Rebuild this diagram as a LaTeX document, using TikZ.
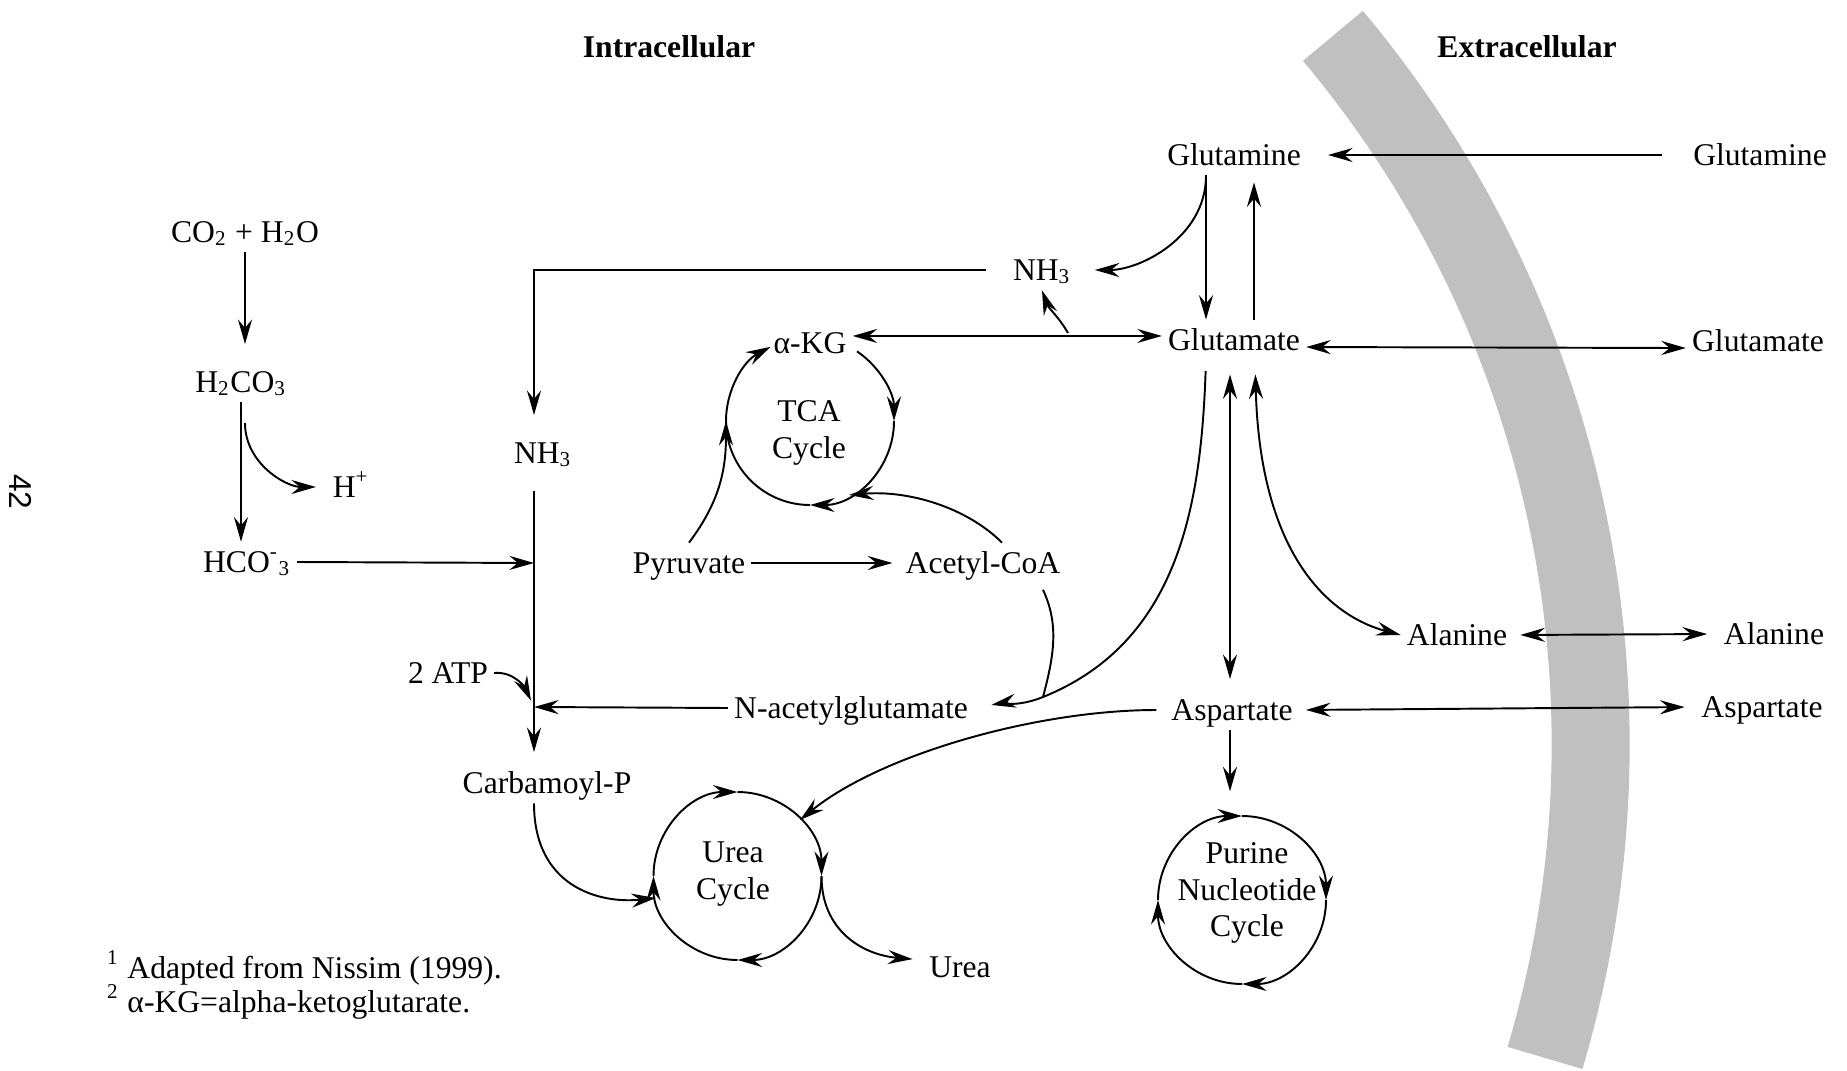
\documentclass[tikz,border=0pt]{standalone}
\usepackage{fontspec}
\setmainfont{Liberation Serif}
\newfontfamily\pagefont{Liberation Sans}
\usetikzlibrary{arrows.meta}
\definecolor{membrane}{RGB}{192,192,192}
\tikzset{
  lbl/.style={inner sep=1.5pt, text height=1.5ex, text depth=0.25ex},
  cyc/.style={align=center, inner sep=0pt},
  head/.style={lbl, font=\fontsize{9}{10.5}\selectfont\bfseries},
}
\begin{document}
\begin{tikzpicture}[font=\fontsize{9}{10.5}\selectfont, line width=0.55pt,
    >={Stealth[length=7pt,width=4pt,inset=2.4pt]}]
    \useasboundingbox (0,0) rectangle (18.47,10.70);
    % cell membrane
    \draw[membrane, line width=0.78cm] (4.889,3.259) ++(40:11.018)
      arc[start angle=40, end angle=-16.55, radius=11.018];

    \node [head] (intra) at (6.69,10.23) {Intracellular};
    \node [head] (extra) at (15.27,10.23) {Extracellular};
    \node [rotate=-90, font=\fontsize{9}{10.5}\pagefont] (pageno) at (0.21,5.78) {42};

    % bicarbonate branch
    \node [lbl] (co2) at (2.45,8.38) {CO\textsubscript{2} + H\textsubscript{2}O};
    \node [lbl] (carbonic) at (2.41,6.88) {H\textsubscript{2}CO\textsubscript{3}};
    \node [lbl] (hplus) at (3.51,5.83) {H\textsuperscript{+}};
    \node [lbl] (bicarb) at (2.47,5.08) {HCO\textsuperscript{-}\textsubscript{3}};
    \coordinate (hsplit) at (2.45,6.47);
    \draw [->, shorten >=5pt] (co2) -- (co2 |- carbonic.north);
    \draw [->] (carbonic) -- (carbonic |- bicarb.north);
    \draw [->, shorten >=3pt] (hsplit) to[out=-90, in=180] (hplus.west);

    % carbamoyl phosphate line
    \node [lbl] (nhLeft) at (5.43,6.17) {NH\textsubscript{3}};
    \node [lbl] (atp) at (4.48,3.97) {2 ATP};
    \node [lbl] (carb) at (5.47,2.87) {Carbamoyl-P};
    \coordinate (jnA) at (5.34,5.07);
    \coordinate (jnB) at (5.34,3.63);
    \draw [->] (bicarb.east) -- (jnA);
    \draw [shorten <=5pt] (nhLeft.south -| jnA) -- (jnB);
    \draw [->, shorten >=3pt] (jnB) -- (carb.north -| jnB);
    \draw [->, shorten >=2pt] (atp.east) to[out=5, in=115] (jnB);

    % TCA cycle
    \node [lbl] (akg) at (8.10,7.27) {α-KG};
    \node [cyc] (tcaTxt) at (8.09,6.37) {TCA\\Cycle};
    \node [lbl] (pyr) at (6.89,5.07) {Pyruvate};
    \node [lbl] (acoa) at (9.83,5.07) {Acetyl-CoA};
    \coordinate (tcaC) at (8.10,6.49);
    \coordinate (tcaW) at (7.26,6.49);
    \coordinate (tcaSE) at (8.49,5.75);
    \draw [->] ([shift={(180:0.84)}]tcaC) arc[start angle=180, end angle=118, radius=0.84];
    \draw [->] ([shift={(56:0.84)}]tcaC) arc[start angle=56, end angle=0, radius=0.84];
    \draw [->] ([shift={(0:0.84)}]tcaC) arc[start angle=0, end angle=-90, radius=0.84];
    \draw ([shift={(-90:0.84)}]tcaC) arc[start angle=-90, end angle=-180, radius=0.84];
    \draw [->] (pyr.north) .. controls +(0.3,0.4) and +(0,-0.5) .. (tcaW);
    \draw [->, shorten >=2pt] (pyr.east) -- (acoa.west);
    \draw [->] ([xshift=0.19cm]acoa.north) .. controls +(-0.35,0.35) and +(0.6,0.05) .. (tcaSE);

    % glutamine and glutamate
    \node [lbl] (glnIn) at (12.34,9.15) {Glutamine};
    \node [lbl] (glnOut) at (17.60,9.15) {Glutamine};
    \node [lbl] (nhTop) at (10.42,8.00) {NH\textsubscript{3}};
    \node [lbl] (gluIn) at (12.34,7.30) {Glutamate};
    \node [lbl] (gluOut) at (17.58,7.29) {Glutamate};
    \coordinate (kgsplit) at (10.68,7.37);
    \draw [<->] ([yshift=2pt]akg.east) -- ([yshift=2pt]akg.east -| gluIn.west);
    \draw [->] (kgsplit) to[out=120, in=-70] (nhTop.south);
    \draw [->, shorten <=6pt, shorten >=5pt] (nhTop.west) -| (nhLeft.north -| jnA);
    \draw [->, shorten >=5pt] ([xshift=-0.28cm]glnIn.south) to[out=-90, in=0] (nhTop.east);
    \draw [->] ([xshift=-0.28cm]glnIn.south) -- ([xshift=-0.28cm]gluIn.north);
    \draw [->, shorten >=2pt] ([xshift=0.20cm]gluIn.north) -- ([xshift=0.20cm]glnIn.south);
    \draw [->, shorten <=7pt, shorten >=6pt] (glnOut.west) -- (glnIn.east);
    \draw [<->] ([yshift=-2pt]gluIn.east) -- ([yshift=-2pt]gluOut.west);

    % alanine and aspartate
    \node [lbl] (nag) at (8.51,3.62) {N-acetylglutamate};
    \node [lbl] (alaIn) at (14.57,4.35) {Alanine};
    \node [lbl] (alaOut) at (17.74,4.36) {Alanine};
    \node [lbl] (aspIn) at (12.32,3.60) {Aspartate};
    \node [lbl] (aspOut) at (17.62,3.63) {Aspartate};
    \coordinate (merge) at (10.43,3.73);
    \draw [->] (nag.west) -- (jnB);
    \draw [->, shorten <=3pt, shorten >=5pt] ([xshift=-0.28cm]gluIn.south)
      to[out=-92, in=22] (merge) to[out=-158, in=10] (nag.east);
    \draw [shorten <=2pt] ([xshift=0.57cm]acoa.south) to[out=-65, in=75] (merge);
    \draw [<->, shorten <=4pt, shorten >=3pt] ([xshift=-0.04cm]gluIn.south) -- ([xshift=-0.02cm]aspIn.north);
    \draw [<->, shorten <=4pt] ([xshift=0.21cm]gluIn.south)
      .. controls +(0.05,-1.9) and +(-0.75,0.2) .. (alaIn.west);
    \draw [<->, shorten <=2pt, shorten >=3pt] (alaIn.east) -- (alaOut.west);
    \draw [<->, shorten <=2pt, shorten >=3pt] (aspIn.east) -- (aspOut.west);

    % urea cycle
    \node [cyc] (ureaTxt) at (7.33,1.96) {Urea\\Cycle};
    \node [lbl] (urea) at (9.60,1.03) {Urea};
    \coordinate (ureaC) at (7.375,1.94);
    \coordinate (ureaNE) at (8.00,2.50);
    \coordinate (ureaW) at (6.56,1.72);
    \coordinate (ureaE) at (8.215,1.94);
    \foreach \a in {180,90,0,-90}
      \draw [->] ([shift={(\a:0.84)}]ureaC) arc[start angle=\a, end angle=\a-90, radius=0.84];
    \draw [->, shorten <=2.5pt] (aspIn.west) .. controls +(-1.3,0) and +(0.8,0.65) .. (ureaNE);
    \draw [->] ([xshift=-0.13cm]carb.south) .. controls +(0,-0.84) and +(-0.56,-0.06) .. (ureaW);
    \draw [->, shorten >=3pt] (ureaE) .. controls +(0,-0.55) and +(-0.6,0.05) .. ([yshift=2pt]urea.west);

    % purine nucleotide cycle
    \node [cyc] (purTxt) at (12.47,1.77) {Purine\\Nucleotide\\Cycle};
    \coordinate (purC) at (12.42,1.70);
    \coordinate (purN) at (12.42,2.54);
    \foreach \a in {180,90,0,-90}
      \draw [->] ([shift={(\a:0.84)}]purC) arc[start angle=\a, end angle=\a-90, radius=0.84];
    \draw [->, shorten >=7pt] ([xshift=-0.02cm]aspIn.south) -- ([xshift=-0.02cm]aspIn.south |- purN);

    % notes
    \node [lbl, anchor=west] (fn1) at (1.01,1.02) {\textsuperscript{1} Adapted from Nissim (1999).};
    \node [lbl, anchor=west] (fn2) at (1.01,0.68) {\textsuperscript{2} α-KG=alpha-ketoglutarate.};
  \end{tikzpicture}
\end{document}
